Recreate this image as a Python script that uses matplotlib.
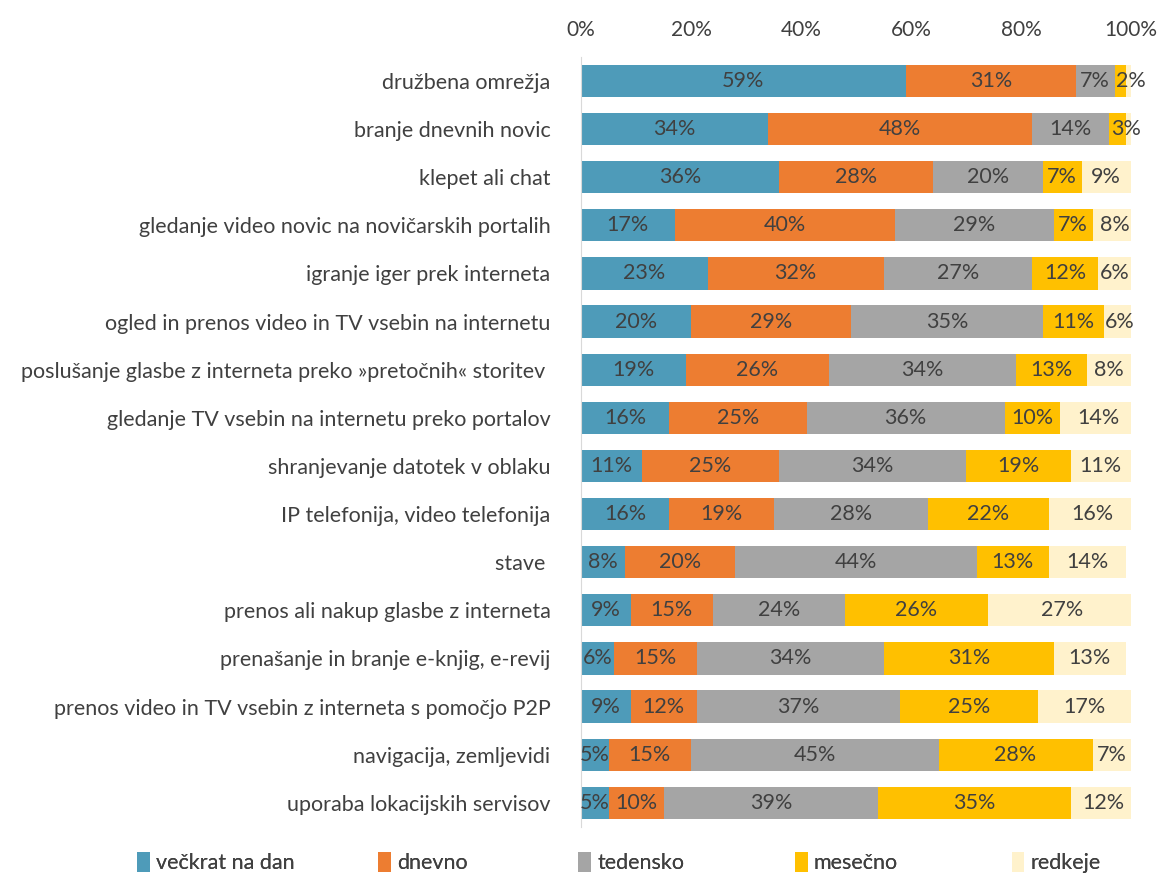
import numpy as np
import matplotlib.pyplot as plt

plt.rcParams['font.family'] = ['Lato', 'DejaVu Sans']

categories = [
    "družbena omrežja",
    "branje dnevnih novic",
    "klepet ali chat",
    "gledanje video novic na novičarskih portalih",
    "igranje iger prek interneta",
    "ogled in prenos video in TV vsebin na internetu",
    "poslušanje glasbe z interneta preko »pretočnih« storitev ",
    "gledanje TV vsebin na internetu preko portalov",
    "shranjevanje datotek v oblaku",
    "IP telefonija, video telefonija",
    "stave ",
    "prenos ali nakup glasbe z interneta",
    "prenašanje in branje e-knjig, e-revij",
    "prenos video in TV vsebin z interneta s pomočjo P2P",
    "navigacija, zemljevidi",
    "uporaba lokacijskih servisov",
]

veckrat = [59, 34, 36, 17, 23, 20, 19, 16, 11, 16, 8, 9, 6, 9, 5, 5]
dnevno = [31, 48, 28, 40, 32, 29, 26, 25, 25, 19, 20, 15, 15, 12, 15, 10]
tedensko = [7, 14, 20, 29, 27, 35, 34, 36, 34, 28, 44, 24, 34, 37, 45, 39]
mesecno = [2, 3, 7, 7, 12, 11, 13, 10, 19, 22, 13, 26, 31, 25, 28, 35]
redkeje = [1, 1, 9, 8, 6, 6, 8, 14, 11, 16, 14, 27, 13, 17, 7, 12]

series_names = ["večkrat na dan", "dnevno", "tedensko", "mesečno", "redkeje"]
colors = ["#4E9BB9", "#ED7D31", "#A5A5A5", "#FFC000", "#FFF2CC"]

fig = plt.figure(figsize=(11.6, 8.75), dpi=100)
ax = fig.add_axes([0.501, 0.055, 0.474, 0.88])

y = np.arange(len(categories))
left = np.zeros(len(categories))
text_color = "#404040"

handles = []
for name, vals, col in zip(series_names,
                           [veckrat, dnevno, tedensko, mesecno, redkeje],
                           colors):
    vals = np.array(vals, dtype=float)
    bars = ax.barh(y, vals, left=left, height=0.67, color=col, label=name,
                   edgecolor="none")
    handles.append(bars)
    for yi, l, v in zip(y, left, vals):
        if v < 2:
            continue
        if v <= 3:
            # tiny segments: label starts at the segment and spills right
            ax.text(l + 0.3, yi, f"{int(v)}%", ha="left", va="center",
                    fontsize=15.5, color=text_color)
        else:
            ax.text(l + v / 2, yi, f"{int(v)}%", ha="center", va="center",
                    fontsize=15.5, color=text_color)
    left += vals

ax.set_xlim(0, 100)
ax.set_ylim(len(categories) - 0.5, -0.5)
ax.set_yticks(y)
ax.set_yticklabels(categories, fontsize=15.5, color=text_color)
ax.set_xticks(np.arange(0, 101, 20))
ax.set_xticklabels([f"{t}%" for t in range(0, 101, 20)], fontsize=15,
                   color=text_color)
ax.xaxis.tick_top()
ax.tick_params(axis="both", length=0)
ax.tick_params(axis="y", pad=22)
ax.tick_params(axis="x", pad=12)
for s in ["top", "right", "bottom"]:
    ax.spines[s].set_visible(False)
ax.spines["left"].set_color("#D9D9D9")

# legend entries evenly spaced along the bottom
legend_x = [0.118, 0.326, 0.498, 0.685, 0.872]
for h, name, lx in zip(handles, series_names, legend_x):
    lg = fig.legend([h], [name], loc="center left", bbox_to_anchor=(lx, 0.014),
                    frameon=False, fontsize=15.5, handlelength=0.6,
                    handleheight=1.0, handletextpad=0.3, borderpad=0,
                    borderaxespad=0, labelcolor=text_color)
    fig.add_artist(lg)

fig.savefig("out.png", dpi=100)
